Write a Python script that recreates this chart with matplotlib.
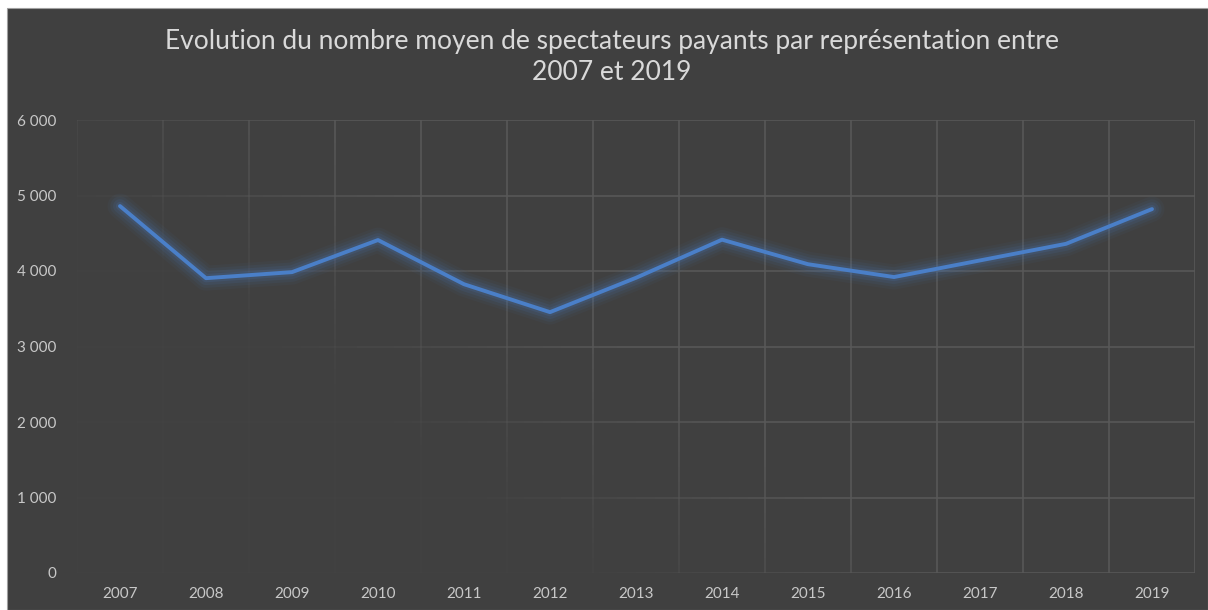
import numpy as np
import matplotlib
matplotlib.use("Agg")
import matplotlib.pyplot as plt
from matplotlib.collections import LineCollection
from matplotlib.patches import Rectangle
from matplotlib.ticker import FuncFormatter

# données
annees = ['2007', '2008', '2009', '2010', '2011', '2012', '2013',
          '2014', '2015', '2016', '2017', '2018', '2019']
spectateurs = [4860, 3905, 3985, 4410, 3825, 3455, 3910,
               4415, 4090, 3920, 4140, 4360, 4820]
y_ticks = [0, 1000, 2000, 3000, 4000, 5000, 6000]

titre = "Evolution du nombre moyen de spectateurs payants par représentation entre\n2007 et 2019"

BG = '#404040'
GRID = '#585858'
TXT = '#d9d9d9'
TICK = '#c8c8c8'
BLUE = '#4a7fc8'

plt.rcParams['font.family'] = ['Lato', 'DejaVu Sans']

fig = plt.figure(figsize=(12.08, 6.10), dpi=100, facecolor='white')
W, H = 1208, 610
# zone sombre du graphique (bord blanc en haut et à gauche)
fig.patches.append(Rectangle((7 / W, 0), 1 - 7 / W, 1 - 8 / H, transform=fig.transFigure,
                             facecolor=BG, edgecolor='#a0a0a0', linewidth=0.8, zorder=-5))

ax = fig.add_axes([77 / W, (H - 573) / H, (1195 - 77) / W, (573 - 120) / H])
ax.set_facecolor('none')
x = np.arange(len(annees))
ax.set_xlim(-0.5, len(annees) - 0.5)
ax.set_ylim(0, 6000)

# grille avec un dégradé (effet Excel)
def alpha_at(xf, yf):
    return float(np.clip((xf + 0.55 * yf - 0.42) / 0.35, 0.06, 1.0))

segs, cols = [], []
n = 60
for yv in y_ticks:
    xs = np.linspace(-0.5, len(annees) - 0.5, n + 1)
    for i in range(n):
        segs.append([(xs[i], yv), (xs[i + 1], yv)])
        xf = (xs[i] + 0.5) / len(annees)
        cols.append(matplotlib.colors.to_rgba(GRID, alpha_at(xf, yv / 6000)))
for xv in np.arange(-0.5, len(annees), 1.0):
    ys = np.linspace(0, 6000, n + 1)
    for i in range(n):
        segs.append([(xv, ys[i]), (xv, ys[i + 1])])
        xf = (xv + 0.5) / len(annees)
        cols.append(matplotlib.colors.to_rgba(GRID, alpha_at(xf, ys[i] / 6000)))
ax.add_collection(LineCollection(segs, colors=cols, linewidths=1.2, zorder=1))

# halo lumineux autour de la courbe
for lw, a in [(18, 0.05), (14, 0.07), (10, 0.10), (6, 0.14)]:
    ax.plot(x, spectateurs, color=BLUE, linewidth=lw, alpha=a,
            solid_capstyle='round', solid_joinstyle='round', zorder=2)
ax.plot(x, spectateurs, color=BLUE, linewidth=2.8,
        solid_capstyle='round', solid_joinstyle='round', zorder=3)

for s in ax.spines.values():
    s.set_visible(False)

ax.set_xticks(x)
ax.set_xticklabels(annees)
ax.set_yticks(y_ticks)
ax.yaxis.set_major_formatter(FuncFormatter(lambda v, p: f"{int(v):,}".replace(',', ' ')))
ax.tick_params(axis='both', length=0, colors=TICK, labelsize=11)
ax.tick_params(axis='x', pad=10)
ax.tick_params(axis='y', pad=15)

fig.text(612 / W, 1 - 57 / H, titre, ha='center', va='center', color=TXT,
         fontsize=19, linespacing=1.25)

fig.savefig('out.png', dpi=100, facecolor=fig.get_facecolor())
